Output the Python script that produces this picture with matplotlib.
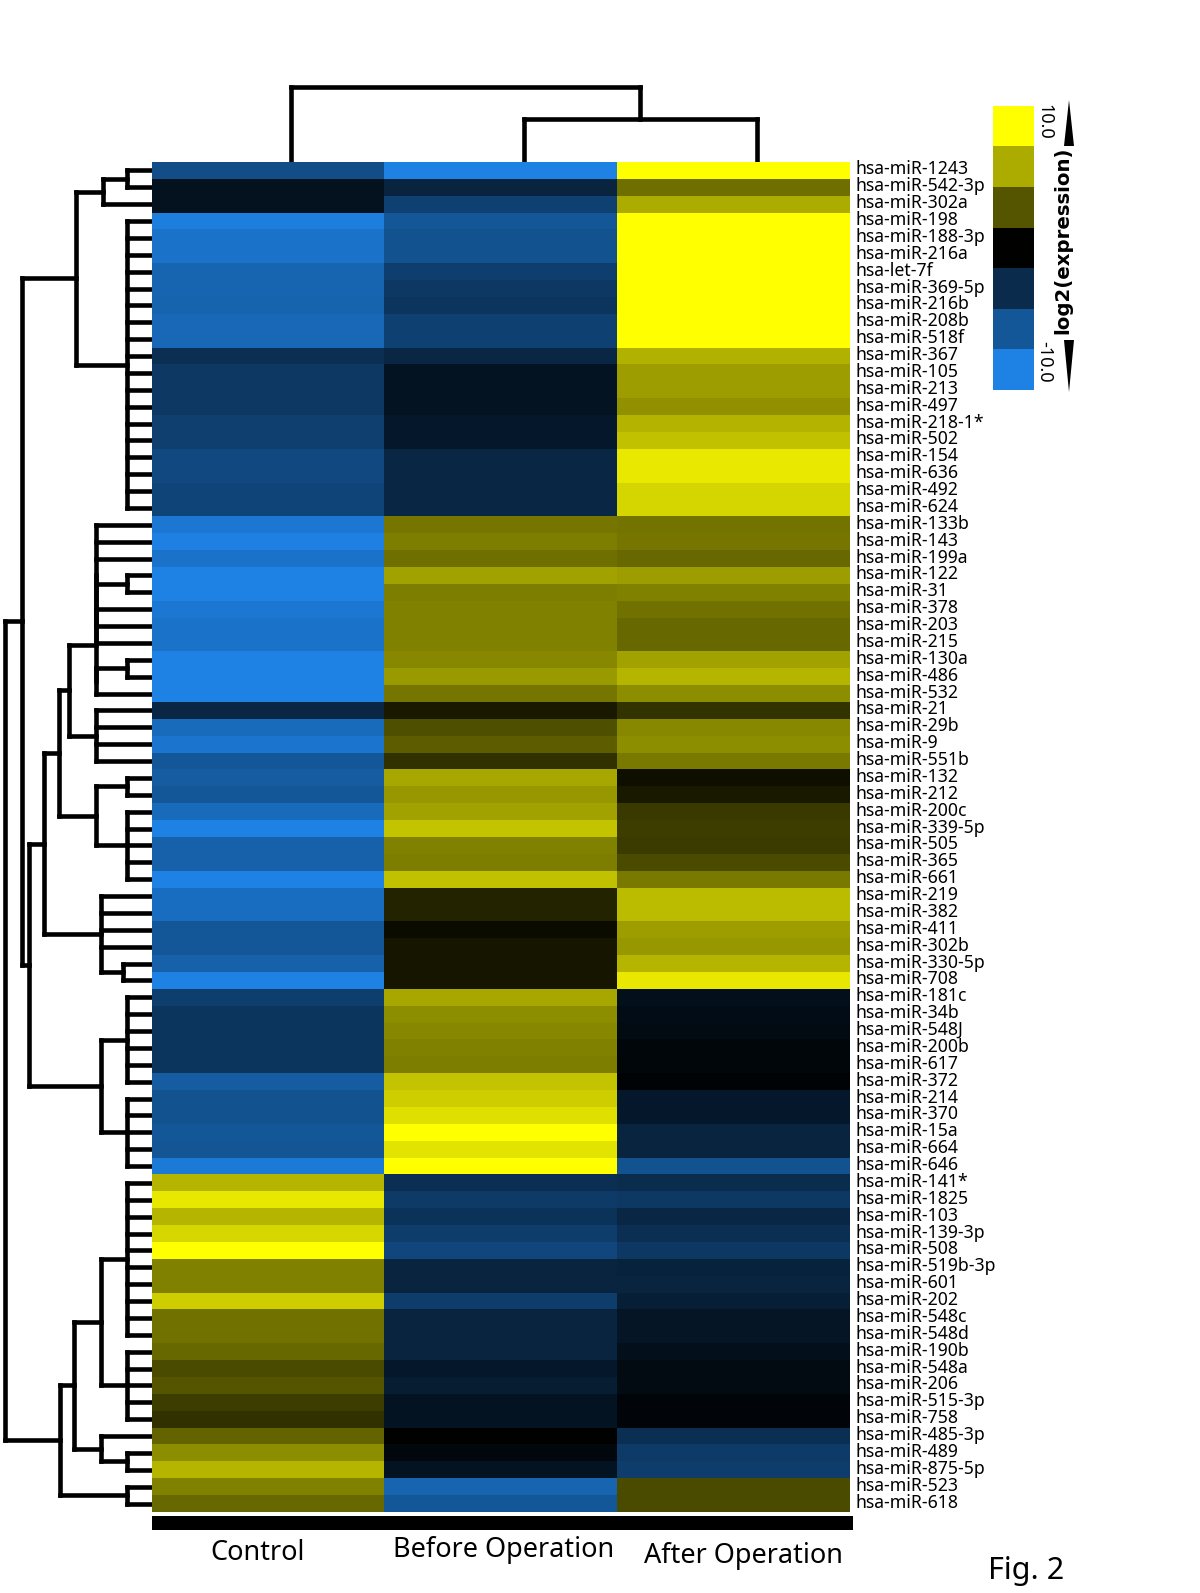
import numpy as np
import matplotlib
matplotlib.use("Agg")
import matplotlib.pyplot as plt
from matplotlib.colors import LinearSegmentedColormap
from matplotlib.patches import Polygon, Rectangle
from matplotlib.transforms import ScaledTranslation

# ---- data (log2 expression, -10 .. 10) ----
mirna = ["hsa-miR-1243", "hsa-miR-542-3p", "hsa-miR-302a", "hsa-miR-198", "hsa-miR-188-3p",
         "hsa-miR-216a", "hsa-let-7f", "hsa-miR-369-5p", "hsa-miR-216b", "hsa-miR-208b",
         "hsa-miR-518f", "hsa-miR-367", "hsa-miR-105", "hsa-miR-213", "hsa-miR-497",
         "hsa-miR-218-1*", "hsa-miR-502", "hsa-miR-154", "hsa-miR-636", "hsa-miR-492",
         "hsa-miR-624", "hsa-miR-133b", "hsa-miR-143", "hsa-miR-199a", "hsa-miR-122",
         "hsa-miR-31", "hsa-miR-378", "hsa-miR-203", "hsa-miR-215", "hsa-miR-130a",
         "hsa-miR-486", "hsa-miR-532", "hsa-miR-21", "hsa-miR-29b", "hsa-miR-9",
         "hsa-miR-551b", "hsa-miR-132", "hsa-miR-212", "hsa-miR-200c", "hsa-miR-339-5p",
         "hsa-miR-505", "hsa-miR-365", "hsa-miR-661", "hsa-miR-219", "hsa-miR-382",
         "hsa-miR-411", "hsa-miR-302b", "hsa-miR-330-5p", "hsa-miR-708", "hsa-miR-181c",
         "hsa-miR-34b", "hsa-miR-548J", "hsa-miR-200b", "hsa-miR-617", "hsa-miR-372",
         "hsa-miR-214", "hsa-miR-370", "hsa-miR-15a", "hsa-miR-664", "hsa-miR-646",
         "hsa-miR-141*", "hsa-miR-1825", "hsa-miR-103", "hsa-miR-139-3p", "hsa-miR-508",
         "hsa-miR-519b-3p", "hsa-miR-601", "hsa-miR-202", "hsa-miR-548c", "hsa-miR-548d",
         "hsa-miR-190b", "hsa-miR-548a", "hsa-miR-206", "hsa-miR-515-3p", "hsa-miR-758",
         "hsa-miR-485-3p", "hsa-miR-489", "hsa-miR-875-5p", "hsa-miR-523", "hsa-miR-618"]

control = [-6.0, -1.4, -1.4, -9.7, -8.8, -8.8, -7.8, -7.8, -7.6, -8.0,
           -8.0, -3.6, -4.3, -4.3, -4.3, -4.9, -4.9, -5.6, -5.6, -5.3,
           -5.3, -9.2, -9.9, -8.8, -10.0, -10.0, -9.2, -8.8, -8.8, -10.0,
           -10.0, -10.0, -3.0, -8.2, -9.0, -6.7, -7.1, -6.7, -8.2, -10.0,
           -7.5, -7.5, -10.0, -8.4, -8.4, -6.7, -6.7, -7.5, -10.0, -4.8,
           -4.1, -4.1, -4.1, -4.1, -7.1, -6.3, -6.3, -6.7, -6.5, -9.4,
           7.1, 9.0, 7.1, 8.4, 10.0, 5.0, 5.0, 8.0, 4.4, 4.4,
           4.1, 2.9, 3.3, 2.4, 1.9, 3.9, 5.5, 7.1, 5.0, 4.1]

before = [-10.0, -2.8, -5.0, -6.7, -6.3, -6.3, -4.8, -4.3, -4.1, -5.0,
          -5.0, -3.0, -1.5, -1.5, -1.5, -1.9, -1.9, -3.0, -3.0, -3.0,
          -3.0, 4.6, 4.9, 4.3, 6.3, 4.9, 5.0, 5.0, 5.0, 5.3,
          6.0, 4.6, 1.0, 3.1, 3.6, 1.9, 6.5, 5.9, 6.3, 7.6,
          5.0, 4.9, 7.5, 1.4, 1.4, 0.4, 0.8, 0.8, 0.8, 6.5,
          5.5, 5.3, 5.0, 4.9, 7.6, 8.0, 8.7, 10.0, 8.9, 10.0,
          -3.6, -4.5, -3.9, -4.7, -5.4, -2.8, -2.8, -4.7, -2.8, -2.8,
          -2.8, -1.9, -2.2, -1.5, -1.5, 0.0, -0.6, -1.5, -7.8, -6.7]

after = [10.0, 4.3, 6.7, 10.0, 10.0, 10.0, 10.0, 10.0, 10.0, 10.0,
         10.0, 6.9, 6.1, 6.1, 5.7, 7.0, 7.5, 9.1, 9.1, 8.3,
         8.3, 4.5, 4.6, 4.1, 6.1, 5.0, 4.4, 4.1, 4.1, 6.3,
         7.1, 5.5, 2.0, 5.3, 5.5, 4.7, 0.6, 1.0, 2.2, 2.4,
         2.3, 2.9, 4.7, 7.3, 7.3, 6.1, 5.9, 7.1, 9.0, -1.2,
         -1.0, -0.8, -0.5, -0.5, -0.3, -1.9, -1.9, -2.8, -2.8, -6.3,
         -3.4, -4.3, -3.0, -3.6, -4.3, -2.6, -2.8, -2.4, -1.7, -1.7,
         -1.2, -0.8, -0.8, -0.4, -0.4, -3.6, -4.5, -4.7, 2.9, 2.9]

groups = ["Control", "Before Operation", "After Operation"]
legend_steps = [10.0, 6.67, 3.33, 0.0, -3.33, -6.67, -10.0]

# row clustering: (height, [children]), ints are row numbers (1 = top row)
row_tree = (6.0, [
    (5.3, [
        (3.1, [(2.0, [(1.0, [1, 2]), 3]), (1.0, list(range(4, 22)))]),
        (5.0, [
            (4.4, [
                (3.8, [
                    (3.4, [
                        (2.3, [(2.3, [(2.3, [22, 23, 24, (1.0, [25, 26]), 27, 28]), 29]),
                               (2.3, [(1.0, [30, 31]), 32])]),
                        (2.3, [33, 34, 35, 36])]),
                    (2.3, [(1.0, [37, 38]), (1.0, [39, 40, 41, 42, 43])])]),
                (2.1, [44, 45, 46, 47, (1.2, [48, 49])])]),
            (2.1, [(1.0, list(range(50, 56))), (1.0, list(range(56, 61)))])])]),
    (3.75, [
        (3.2, [(2.1, [(1.0, list(range(61, 71))), (1.0, list(range(71, 76)))]),
               (2.1, [76, (1.0, [77, 78])])]),
        (1.0, [79, 80])])])

# column clustering
col_tree = (0.92, [1, (0.52, [2, 3])])

W, H = 1200, 1593
LW = 3.3


def fx(px):
    return px / W


def fy(py):
    return 1 - py / H


def draw_tree(ax, node, side):
    if isinstance(node, int):
        return node - 0.5, 0.0
    h, kids = node
    pts = [draw_tree(ax, k, side) for k in kids]
    pos = [p for p, _ in pts]
    for p, kh in pts:
        if side == "left":
            ax.plot([kh, h], [p, p], c="black", lw=LW, solid_capstyle="projecting")
        else:
            ax.plot([p, p], [kh, h], c="black", lw=LW, solid_capstyle="projecting")
    if side == "left":
        ax.plot([h, h], [min(pos), max(pos)], c="black", lw=LW, solid_capstyle="projecting")
    else:
        ax.plot([min(pos), max(pos)], [h, h], c="black", lw=LW, solid_capstyle="projecting")
    return (min(pos) + max(pos)) / 2, h


cmap = LinearSegmentedColormap.from_list(
    "by", [(0.0, (30 / 255, 130 / 255, 228 / 255)), (0.5, (0, 0, 0)), (1.0, (1, 1, 0))])

fig = plt.figure(figsize=(W / 100, H / 100), dpi=100)
fig.patch.set_facecolor("white")

hm_l, hm_r, hm_t, hm_b = 152, 850, 162, 1512
n = len(mirna)

# heatmap
ax = fig.add_axes([fx(hm_l), fy(hm_b), fx(hm_r - hm_l), (hm_b - hm_t) / H])
mat = np.column_stack([control, before, after])
ax.imshow(mat, cmap=cmap, vmin=-10, vmax=10, aspect="auto",
          interpolation="nearest", extent=(0, 3, n, 0))
ax.set_xlim(0, 3)
ax.set_ylim(n, 0)
ax.set_xticks([])
ax.yaxis.tick_right()
ax.set_yticks(np.arange(n) + 0.5)
ax.set_yticklabels(mirna, fontsize=12.7, family="Noto Sans")
ax.tick_params(axis="y", length=0, pad=4)
shift = ScaledTranslation(0, 3 / 100, fig.dpi_scale_trans)
for lbl in ax.get_yticklabels():
    lbl.set_transform(lbl.get_transform() + shift)
for s in ax.spines.values():
    s.set_visible(False)

# row dendrogram
axl = fig.add_axes([0, fy(hm_b), fx(hm_l), (hm_b - hm_t) / H])
draw_tree(axl, row_tree, "left")
axl.set_xlim(6.2, 0)
axl.set_ylim(n, 0)
axl.axis("off")

# column dendrogram (sits a little right of the column centres in the original)
axt = fig.add_axes([fx(hm_l + 23), fy(hm_t), fx(hm_r - hm_l), 82 / H])
draw_tree(axt, col_tree, "top")
axt.set_xlim(0, 3)
axt.set_ylim(0, 1)
axt.axis("off")

# black bar under the heatmap
fig.add_artist(Rectangle((fx(hm_l), fy(1530)), fx(853 - hm_l), 14 / H,
                         transform=fig.transFigure, color="black", lw=0))

# group labels
label_pos = [(258, 1553), (504, 1550), (743, 1556)]
for g, (x, y) in zip(groups, label_pos):
    fig.text(fx(x), fy(y), g, ha="center", va="center", fontsize=19.5, family="Noto Sans")

fig.text(fx(988), fy(1571), "Fig. 2", ha="left", va="center", fontsize=22, family="Noto Sans")

# colour key
axc = fig.add_axes([fx(993), fy(390), fx(41), 284 / H])
axc.imshow(np.array(legend_steps)[:, None], cmap=cmap, vmin=-10, vmax=10,
           aspect="auto", interpolation="nearest")
axc.axis("off")

fig.text(fx(1044), fy(122), "10.0", rotation=270, ha="center", va="center",
         fontsize=13, family="Noto Sans")
fig.text(fx(1044), fy(362), "-10.0", rotation=270, ha="center", va="center",
         fontsize=13, family="Noto Sans")
fig.text(fx(1063), fy(240), "log2(expression)", rotation=90, ha="center", va="center",
         fontsize=14.2, fontweight="bold", family="DejaVu Sans")
fig.add_artist(Polygon([(fx(1069), fy(100)), (fx(1064), fy(146)), (fx(1074), fy(146))],
                       closed=True, transform=fig.transFigure, color="black", lw=0))
fig.add_artist(Polygon([(fx(1064), fy(340)), (fx(1074), fy(340)), (fx(1069), fy(392))],
                       closed=True, transform=fig.transFigure, color="black", lw=0))

fig.savefig("out.png", dpi=100, facecolor="white")
